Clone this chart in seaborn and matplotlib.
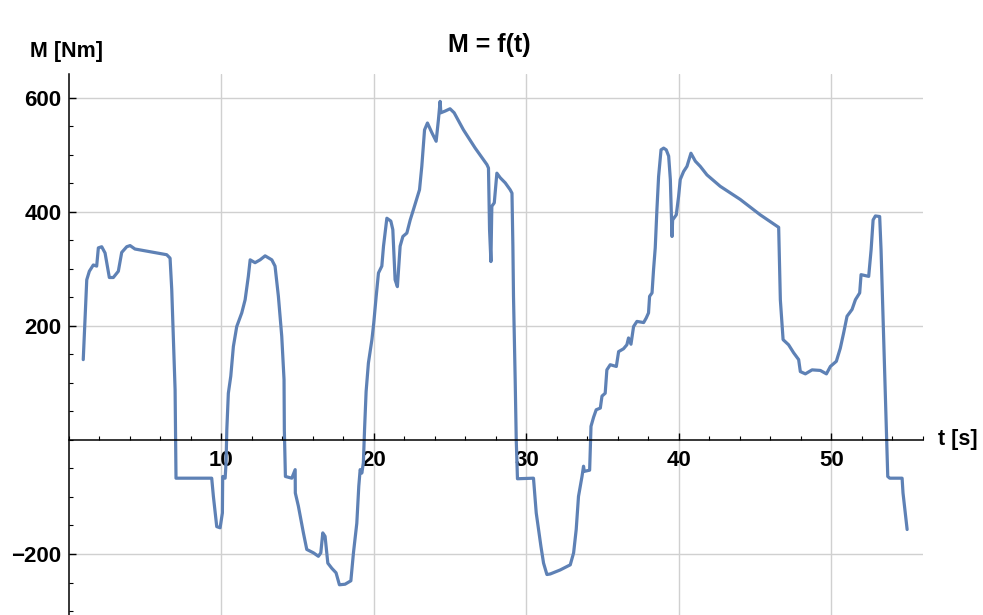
import numpy as np
import pandas as pd
import seaborn as sns
import matplotlib.pyplot as plt
from matplotlib.ticker import MultipleLocator, FixedLocator

# torque trace
t = [0.96, 1.19, 1.36, 1.62, 1.84, 1.95, 2.17, 2.39, 2.67, 2.93, 3.26, 3.48, 3.81, 4.03, 4.35,
     6.43, 6.65, 6.76, 6.98, 7.04, 9.38, 9.49, 9.71, 9.93, 10.08, 10.10, 10.26, 10.32, 10.37,
     10.47, 10.63, 10.80, 11.02, 11.35, 11.57, 11.78, 11.90, 12.22, 12.55, 12.88, 13.32, 13.53,
     13.75, 13.97, 14.12, 14.14, 14.21, 14.63, 14.85, 14.86, 15.06, 15.39, 15.61, 16.05, 16.37,
     16.53, 16.66, 16.81, 16.99, 17.25, 17.53, 17.75, 18.12, 18.50, 18.67, 18.89, 19.02, 19.11,
     19.22, 19.32, 19.40, 19.50, 19.65, 19.88, 20.00, 20.16, 20.31, 20.53, 20.64, 20.86, 21.12,
     21.25, 21.40, 21.55, 21.73, 21.91, 22.17, 22.39, 22.60, 23.00, 23.15, 23.33, 23.52, 23.81,
     24.09, 24.24, 24.35, 24.40, 24.68, 25.00, 25.27, 25.88, 26.65, 27.42, 27.52, 27.59, 27.68,
     27.74, 27.90, 28.07, 28.29, 28.62, 28.94, 29.06, 29.12, 29.16, 29.27, 29.34, 29.42, 30.47,
     30.65, 30.96, 31.13, 31.35, 31.57, 32.22, 32.88, 33.10, 33.27, 33.42, 33.65, 33.75, 33.80,
     34.15, 34.24, 34.41, 34.58, 34.85, 34.96, 35.17, 35.28, 35.50, 35.90, 36.05, 36.37, 36.59,
     36.70, 36.86, 37.03, 37.25, 37.69, 37.86, 38.01, 38.08, 38.24, 38.34, 38.45, 38.56, 38.67,
     38.83, 39.00, 39.17, 39.33, 39.44, 39.55, 39.59, 39.83, 39.98, 40.09, 40.31, 40.53, 40.79,
     41.08, 41.40, 41.84, 42.71, 44.02, 45.33, 46.54, 46.65, 46.83, 47.19, 47.52, 47.85, 47.96,
     48.29, 48.73, 49.27, 49.67, 49.93, 50.32, 50.58, 50.80, 51.02, 51.35, 51.57, 51.85, 51.94,
     52.44, 52.60, 52.73, 52.88, 53.16, 53.25, 53.38, 53.54, 53.69, 53.82, 54.63, 54.69, 54.96]
M = [141, 281, 296, 307, 305, 337, 339, 328, 285, 285, 296, 329, 339, 341, 335,
     325, 319, 264, 88, -67, -67, -99, -152, -154, -128, -64, -67, -40, 18,
     82, 112, 164, 199, 223, 246, 287, 316, 311, 316, 323, 316, 305,
     252, 182, 106, 18, -64, -67, -52, -93, -116, -163, -192, -198, -204,
     -198, -163, -169, -216, -225, -233, -254, -253, -247, -198, -146, -81, -52,
     -58, -40, 20, 85, 135, 176, 205, 252, 293, 305, 340, 389, 384,
     369, 281, 269, 340, 357, 363, 386, 404, 439, 480, 544, 556, 539,
     524, 562, 594, 574, 577, 581, 574, 544, 512, 483, 477, 369, 313,
     410, 416, 468, 460, 451, 439, 433, 340, 252, 106, 0, -68, -67,
     -128, -187, -216, -236, -235, -228, -219, -198, -157, -99, -64, -46, -55,
     -53, 24, 40, 53, 56, 77, 82, 123, 132, 129, 155, 160, 167,
     179, 168, 199, 208, 206, 214, 223, 252, 258, 299, 337, 404, 462,
     509, 512, 509, 498, 457, 357, 386, 395, 427, 457, 471, 480, 503,
     489, 480, 465, 445, 422, 395, 373, 246, 176, 167, 153, 141, 120,
     116, 123, 122, 116, 129, 138, 161, 188, 217, 229, 246, 258, 290,
     287, 334, 386, 393, 392, 334, 217, 71, -64, -67, -67, -93, -157]

x_major = [10, 20, 30, 40, 50]
y_major = [-200, 200, 400, 600]

df = pd.DataFrame({'t': t, 'M': M})

sns.set_style('white')
plt.rcParams['font.family'] = ['Liberation Sans', 'DejaVu Sans']
plt.rcParams['font.weight'] = 'bold'
plt.rcParams['text.color'] = 'black'

W, H = 983, 615
fig = plt.figure(figsize=(W / 100, H / 100), dpi=100)
left, right, top = 68.6, 923, 74
ax = fig.add_axes([left / W, 0, (right - left) / W, 1 - top / H])

sns.lineplot(data=df, x='t', y='M', ax=ax, sort=False, estimator=None,
             color='#5e81b5', linewidth=2.3)

ax.set_xlim(0, 56)
ax.set_ylim(-307, 642)

# grid
for xv in x_major:
    ax.axvline(xv, color='#d0d0d0', linewidth=1, zorder=0)
for yv in y_major:
    ax.axhline(yv, color='#d0d0d0', linewidth=1, zorder=0)

# axes through origin
for s in ['top', 'right']:
    ax.spines[s].set_visible(False)
ax.spines['left'].set_position(('data', 0))
ax.spines['bottom'].set_position(('data', 0))
for s in ['left', 'bottom']:
    ax.spines[s].set_color('black')
    ax.spines[s].set_linewidth(1.1)

ax.xaxis.set_major_locator(FixedLocator(x_major))
ax.yaxis.set_major_locator(FixedLocator(y_major))
ax.xaxis.set_minor_locator(MultipleLocator(2))
ax.yaxis.set_minor_locator(MultipleLocator(50))
ax.set_xticklabels([str(v) for v in x_major])
ax.set_yticklabels(['\u2212200' if v < 0 else str(v) for v in y_major])
ax.tick_params(axis='both', which='both', bottom=True, left=True)
ax.tick_params(axis='both', which='major', direction='in', length=5, width=1,
               labelsize=16, colors='black')
ax.tick_params(axis='both', which='minor', direction='in', length=3, width=0.8,
               colors='black')
ax.tick_params(axis='x', which='major', pad=7)
ax.tick_params(axis='y', which='major', pad=5)
for lab in ax.get_xticklabels() + ax.get_yticklabels():
    lab.set_fontweight('bold')

ax.set_xlabel('')
ax.set_ylabel('')

fig.text(489 / W, 1 - 45 / H, 'M = f(t)', ha='center', va='center',
         fontsize=18, fontweight='bold')
fig.text(67 / W, 1 - 52 / H, 'M [Nm]', ha='center', va='center',
         fontsize=15.5, fontweight='bold')
fig.text(938 / W, 1 - 440 / H, 't [s]', ha='left', va='center',
         fontsize=15.5, fontweight='bold')

plt.savefig('out.png', dpi=100)
